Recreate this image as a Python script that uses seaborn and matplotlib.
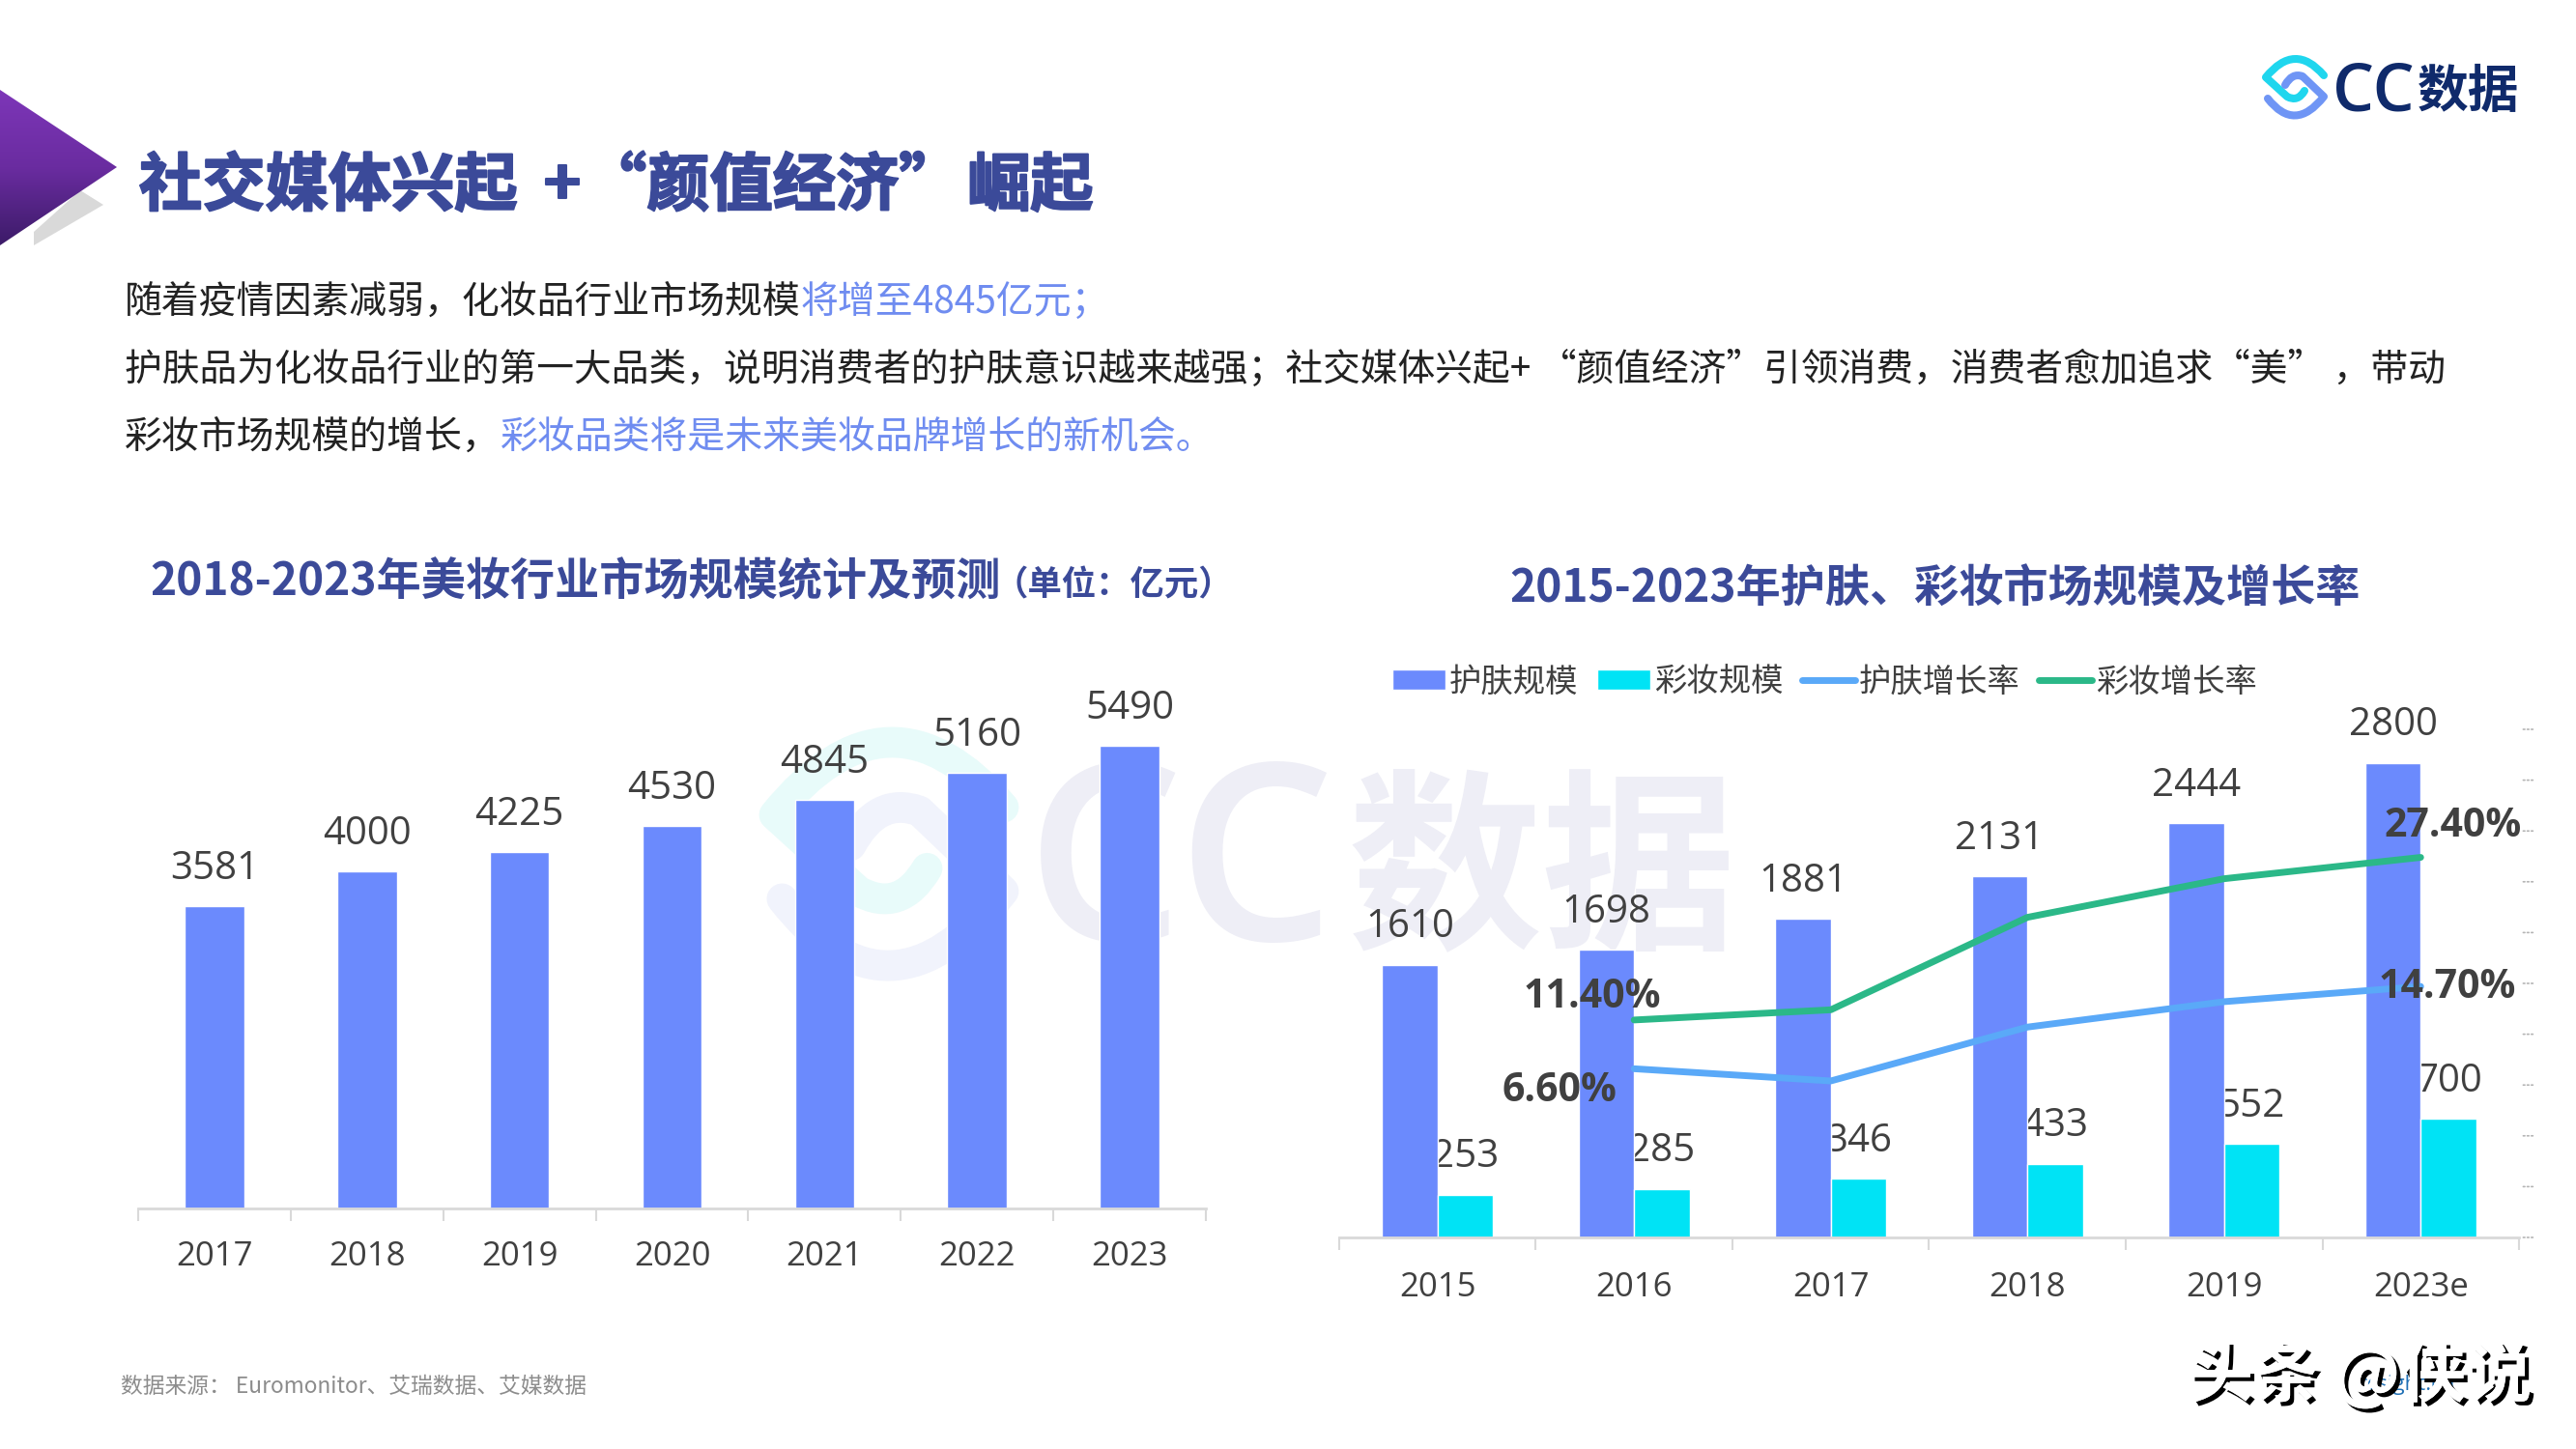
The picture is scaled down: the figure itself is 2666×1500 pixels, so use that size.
import numpy as np
import pandas as pd
import seaborn as sns
import matplotlib.pyplot as plt
import matplotlib.patheffects as pe
from matplotlib.patches import Polygon, PathPatch
from matplotlib.path import Path
from matplotlib.ticker import FixedLocator

# Left chart data
market_years = ["2017", "2018", "2019", "2020", "2021", "2022", "2023"]
market_size = [3581, 4000, 4225, 4530, 4845, 5160, 5490]

# Right chart data
years = ["2015", "2016", "2017", "2018", "2019", "2023e"]
skin_size = [1610, 1698, 1881, 2131, 2444, 2800]
makeup_size = [253, 285, 346, 433, 552, 700]
rate_years = ["2016", "2017", "2018", "2019", "2023e"]
skin_rate = [6.6, 5.4, 10.7, 13.2, 14.7]
makeup_rate = [11.4, 12.4, 21.5, 25.3, 27.4]

# Texts
left_title = "2018-2023年美妆行业市场规模统计及预测"
left_unit = "（单位：亿元）"
right_title = "2015-2023年护肤、彩妆市场规模及增长率"
source_text = "数据来源： Euromonitor、艾瑞数据、艾媒数据"

BLUE = "#6b8afd"
CYAN = "#00e3f5"
LINE_BLUE = "#5aa9f8"
LINE_GREEN = "#2bb888"
NAVY = "#3b4a99"
HILITE = "#6f8cf0"
GREY = "#404040"
AXIS = "#d9d9d9"

sns.set_style("white")
plt.rcParams["font.family"] = ["Noto Sans CJK SC", "DejaVu Sans"]

fig = plt.figure(figsize=(26.66, 15), dpi=100, facecolor="white")

# Background layer in pixel coordinates (decoration and slide text)
bg = fig.add_axes([0, 0, 1, 1], zorder=0)
bg.set_xlim(0, 2666)
bg.set_ylim(1500, 0)
bg.axis("off")
renderer = fig.canvas.get_renderer()


def draw_logo(cx, cy, scale, c1, c2):
    # two hooked strokes forming the eye shaped logo
    upper = [(30, -13), (0, -48), (-30, -11), (-8, 9), (3, 15), (10, 3)]
    lower = [(-28, 11), (0, 47), (30, 9), (8, -12), (-3, -16), (-10, -3)]
    codes = [Path.MOVETO, Path.CURVE3, Path.CURVE3, Path.LINETO, Path.CURVE3, Path.CURVE3]
    for pts, col in ((upper, c1), (lower, c2)):
        verts = [(cx + px * scale, cy + py * scale) for px, py in pts]
        bg.add_patch(PathPatch(Path(verts, codes), fill=False, edgecolor=col,
                               lw=5.8 * scale, joinstyle="round", capstyle="round"))


def text_parts(x, y, parts, **kw):
    # one line of text with several colours
    for txt, col in parts:
        t = bg.text(x, y, txt, color=col, va="center", ha="left", **kw)
        x += t.get_window_extent(renderer).width


# Gradient arrow at the top left
bg.add_patch(Polygon([(35, 254), (107, 212), (83, 197), (35, 240)], closed=True,
                     facecolor="#d9d9d9", edgecolor="none"))
arrow = Polygon([(0, 93), (121, 173), (0, 254)], closed=True, facecolor="none",
                edgecolor="none")
bg.add_patch(arrow)
grad = np.linspace(0, 1, 256).reshape(-1, 1)
cmap = sns.blend_palette(["#7d36b8", "#6a2ca0", "#3c1b68"], as_cmap=True)
im = bg.imshow(grad, extent=(0, 121, 254, 93), cmap=cmap, aspect="auto", zorder=1)
im.set_clip_path(arrow)
bg.set_xlim(0, 2666)
bg.set_ylim(1500, 0)

# Main title, split up because the spacing is wider than the font's
title_kw = dict(fontsize=47, fontweight="bold", color=NAVY, va="center",
                path_effects=[pe.withStroke(linewidth=1.5, foreground=NAVY)])
bg.text(144, 193, "社交媒体兴起", ha="left", **title_kw)
bg.text(582, 193, "+", ha="center", **title_kw)
bg.text(604, 193, "“颜值经济”", ha="left", **title_kw)
bg.text(1001, 193, "崛起", ha="left", **title_kw)

# Intro paragraph
text_parts(129, 313, [("随着疫情因素减弱，化妆品行业市场规模", "#222222"),
                      ("将增至4845亿元；", HILITE)], fontsize=28)
text_parts(129, 383, [("护肤品为化妆品行业的第一大品类，说明消费者的护肤意识越来越强；社交媒体兴起+ “颜值经济”引领消费，消费者愈加追求“美” ，带动", "#222222")],
           fontsize=27.9)
text_parts(129, 453, [("彩妆市场规模的增长，", "#222222"),
                      ("彩妆品类将是未来美妆品牌增长的新机会。", HILITE)], fontsize=28)

# Chart titles
bg.text(155, 602, left_title, fontsize=33.2, fontweight="bold", color=NAVY,
        va="center", ha="left")
bg.text(1028, 606, left_unit, fontsize=25.5, fontweight="bold", color=NAVY,
        va="center", ha="left")
bg.text(2003, 610, right_title, fontsize=33.2, fontweight="bold", color=NAVY,
        va="center", ha="center")

# Pale watermark behind the charts
draw_logo(920, 887, 3.95, "#e8fbfa", "#f1f3fc")
bg.text(1062, 907, "CC", fontsize=185, color="#eeeef6", family="Open Sans",
        fontweight="semibold", va="center", ha="left")
bg.text(1395, 907, "数据", fontsize=145, color="#eeeef6", fontweight="bold",
        va="center", ha="left")

# Logo at the top right
draw_logo(2375, 91, 1.0, "#1fd6ee", "#6f95f5")
bg.text(2414, 97, "CC", fontsize=49, color="#0f2a6b", family="Open Sans",
        fontweight="semibold", va="center", ha="left")
bg.text(2502, 95, "数据", fontsize=38, color="#0f2a6b", fontweight="bold",
        va="center", ha="left")

# Footer
bg.text(125, 1435, source_text, fontsize=16.4, color="#8c8c8c", va="center", ha="left")
bg.text(2440, 1433, "ccsight.cn", fontsize=16, color="#1f6fb5", family="Open Sans",
        va="center", ha="left")
bg.text(2264, 1425, "头条 @侠说", fontsize=49, color="white", fontweight="bold",
        va="center", ha="left",
        path_effects=[pe.withSimplePatchShadow(offset=(3, -3), shadow_rgbFace="black", alpha=1),
                      pe.Normal()])

# Left chart: plain bars
ax_l = fig.add_axes([143 / 2666, 1 - 1251 / 1500, 1105 / 2666, 524 / 1500], zorder=1)
left_df = pd.DataFrame({"year": market_years, "size": market_size})
sns.barplot(data=left_df, x="year", y="size", color=BLUE, saturation=1, width=0.39, ax=ax_l)
ax_l.set_ylim(0, 6000)
ax_l.set_xlim(-0.5, len(market_years) - 0.5)
for i, v in enumerate(market_size):
    ax_l.annotate(str(v), (i, v), xytext=(0, 27.5), textcoords="offset points", ha="center",
                  va="center", fontsize=29, color=GREY, family="Open Sans")

# Right chart: grouped bars and growth lines on a second axis
ax_r = fig.add_axes([1386 / 2666, 1 - 1281 / 1500, 1221 / 2666, 526 / 1500], zorder=1)
right_df = pd.DataFrame({
    "year": years * 2,
    "size": skin_size + makeup_size,
    "kind": ["护肤规模"] * len(years) + ["彩妆规模"] * len(years),
})
sns.barplot(data=right_df, x="year", y="size", hue="kind", palette=[BLUE, CYAN], saturation=1,
            width=0.566, gap=0, ax=ax_r)
ax_r.set_ylim(0, 3000)
ax_r.set_xlim(-0.5, len(years) - 0.5)
bar_w = 0.566 / 2
for i, (a, b) in enumerate(zip(skin_size, makeup_size)):
    ax_r.annotate(str(a), (i - bar_w / 2, a), xytext=(0, 28), textcoords="offset points",
                  ha="center", va="center", fontsize=29, color=GREY, family="Open Sans")
    # makeup labels sit behind the skin bars, as in the slide
    ax_r.annotate(str(b), (i + bar_w / 2, b), xytext=(0, 28), textcoords="offset points",
                  ha="center", va="center", fontsize=29, color=GREY, family="Open Sans",
                  zorder=0.5)

ax_t = ax_r.twinx()
rate_pos = [years.index(y) for y in rate_years]
rate_df = pd.DataFrame({
    "pos": rate_pos * 2,
    "rate": skin_rate + makeup_rate,
    "kind": ["护肤增长率"] * len(rate_pos) + ["彩妆增长率"] * len(rate_pos),
})
sns.lineplot(data=rate_df, x="pos", y="rate", hue="kind", palette=[LINE_BLUE, LINE_GREEN],
             lw=5, errorbar=None, ax=ax_t)
ax_t.set_ylim(-10, 40)
ax_t.set_yticks(np.arange(-10, 41, 5))
ax_t.set_yticklabels([])
ax_t.set_ylabel("")
ax_t.tick_params(axis="y", right=False)
for y in ax_t.get_yticks():
    # tiny dashes instead of a solid tick
    ax_t.annotate("", (1.002, y), xycoords=ax_t.get_yaxis_transform(), xytext=(8.6, 0),
                  textcoords="offset points",
                  arrowprops=dict(arrowstyle="-", lw=1.2, color="#b5b5b5", ls=(0, (1, 1.5)),
                                  shrinkA=0, shrinkB=0))
for side in ax_t.spines.values():
    side.set_visible(False)

# rate labels, offsets tuned by hand (points)
rate_labels = [
    (0, skin_rate, (-56, -17)), (4, skin_rate, (20, -1)),
    (0, makeup_rate, (-31, 17)), (4, makeup_rate, (24, 23)),
]
for idx, series, off in rate_labels:
    ax_t.annotate(f"{series[idx]:.2f}%", (rate_pos[idx], series[idx]), xytext=off,
                  textcoords="offset points", ha="center", va="center", fontsize=29.5,
                  fontweight="bold", color=GREY, family="Open Sans")

# Legend collected from both axes
h1, l1 = ax_r.get_legend_handles_labels()
h2, l2 = ax_t.get_legend_handles_labels()
ax_r.get_legend().remove()
ax_t.get_legend().remove()
fig.legend(h1 + h2, l1 + l2, ncol=4, frameon=False, fontsize=24, labelcolor=GREY,
           loc="center left", bbox_to_anchor=(1441 / 2666, 1 - 706 / 1500),
           handlelength=1.65, handleheight=0.6, handletextpad=0.12, columnspacing=0.58,
           borderpad=0, borderaxespad=0)

# Shared axis styling
for ax, labels, pad in ((ax_l, market_years, 24), (ax_r, years, 25)):
    ax.set_facecolor("none")
    ax.set_xlabel("")
    ax.set_ylabel("")
    ax.set_yticks([])
    sns.despine(ax=ax, left=True, right=True, top=True)
    ax.spines["bottom"].set_color(AXIS)
    ax.spines["bottom"].set_linewidth(2)
    ax.tick_params(axis="x", which="major", length=0, pad=pad, labelsize=25, labelcolor=GREY)
    ax.xaxis.set_minor_locator(FixedLocator(np.arange(len(labels) + 1) - 0.5))
    ax.tick_params(axis="x", which="minor", bottom=True, length=9, width=1.5, color=AXIS)
    for lab in ax.get_xticklabels():
        lab.set_family("Open Sans")

fig.savefig("out.png", dpi=100, facecolor="white")
